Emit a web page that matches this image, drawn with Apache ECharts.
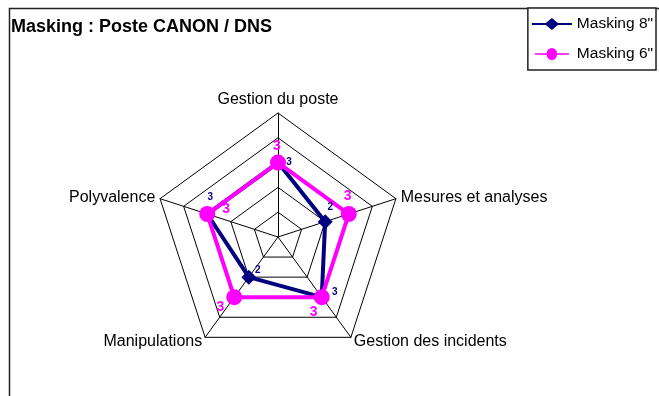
<!DOCTYPE html>
<html>
<head>
<meta charset="utf-8">
<script src="https://cdn.jsdelivr.net/npm/echarts@6/dist/echarts.min.js"></script>
<style>
html, body { margin: 0; padding: 0; background: #fff; }
#chart { width: 659px; height: 396px; }
</style>
</head>
<body>
<div id="chart"></div>
<script>
// axes in the original (clockwise) order, starting at the top
var categories = ['Gestion du poste', 'Mesures et analyses', 'Gestion des incidents', 'Manipulations', 'Polyvalence'];
var masking8 = [3, 2, 3, 2, 3];
var masking6 = [3, 3, 3, 3, 3];
var seriesNames = ['Masking 8"', 'Masking 6"'];
var maxValue = 5;

// where each value label sits relative to its point (px), same axis order
var labelOffs8 = [[11, 0], [5, -14], [13, -5], [9, -7], [3, -17]];
var labelOffs6 = [[-1, -16], [-1, -18], [-8, 15], [-14, 10], [19, -5]];

// echarts walks the indicators counter-clockwise, so flip everything after the first
var order = [0, 4, 3, 2, 1];
function reorder(a) { return order.map(function (i) { return a[i]; }); }

function richFor(offs, color, size) {
    var rich = {};
    reorder(offs).forEach(function (o, j) {
        rich['d' + j] = {
            color: color, fontSize: size, fontWeight: 'bold', fontFamily: 'Liberation Sans',
            padding: [Math.max(0, 2 * o[1]), Math.max(0, -2 * o[0]), Math.max(0, -2 * o[1]), Math.max(0, 2 * o[0])]
        };
    });
    return rich;
}
function fmt(p) { return '{d' + p.dimensionIndex + '|' + p.value + '}'; }

var lineDiamond = 'path://M0,5H14L20,0L26,5H40V7H26L20,12L14,7H0Z';
var lineCircle = 'path://M0,5H14A6,6 0 0 1 26,5H40V7H26A6,6 0 0 1 14,7H0Z';

var option = {
    animation: false,
    backgroundColor: '#fff',
    graphic: [{
        type: 'rect', z: -1,
        shape: { x: 9.5, y: 8.5, width: 800, height: 500 },
        style: { fill: null, stroke: '#222', lineWidth: 1.5 }
    }],
    title: {
        text: 'Masking : Poste CANON / DNS',
        left: 6, top: 13,
        textStyle: { fontFamily: 'Liberation Sans', fontSize: 18, fontWeight: 'bold', color: '#000' }
    },
    legend: {
        orient: 'vertical',
        right: 3, top: 8,
        padding: [8, 3, 8, 4],
        itemGap: 14,
        itemWidth: 40, itemHeight: 12,
        backgroundColor: '#fff',
        borderColor: '#222', borderWidth: 1.5,
        textStyle: { fontFamily: 'Liberation Sans', fontSize: 15.5, color: '#000' },
        data: [
            { name: seriesNames[0], icon: lineDiamond },
            { name: seriesNames[1], icon: lineCircle }
        ]
    },
    radar: {
        center: [278, 237],
        radius: 124,
        startAngle: 90,
        splitNumber: 5,
        shape: 'polygon',
        nameGap: 5,
        indicator: reorder(categories).map(function (n) { return { name: n, min: 0, max: maxValue }; }),
        axisName: { color: '#000', fontFamily: 'Liberation Sans', fontSize: 16 },
        splitLine: { lineStyle: { color: '#000', width: 1 } },
        splitArea: { show: false },
        axisLine: { lineStyle: { color: '#000', width: 1 } }
    },
    series: [
        {
            type: 'radar',
            name: seriesNames[0],
            symbol: 'diamond', symbolSize: 15,
            lineStyle: { color: '#000080', width: 4 },
            itemStyle: { color: '#000080' },
            label: { show: true, position: 'inside', formatter: fmt, rich: richFor(labelOffs8, '#000080', 10) },
            data: [{ name: seriesNames[0], value: reorder(masking8) }]
        },
        {
            type: 'radar',
            name: seriesNames[1],
            symbol: 'circle', symbolSize: 16,
            lineStyle: { color: '#ff00ff', width: 4 },
            itemStyle: { color: '#ff00ff' },
            label: { show: true, position: 'inside', formatter: fmt, rich: richFor(labelOffs6, '#ff00ff', 14) },
            data: [{ name: seriesNames[1], value: reorder(masking6) }]
        }
    ]
};

echarts.init(document.getElementById('chart')).setOption(option);
</script>
</body>
</html>
